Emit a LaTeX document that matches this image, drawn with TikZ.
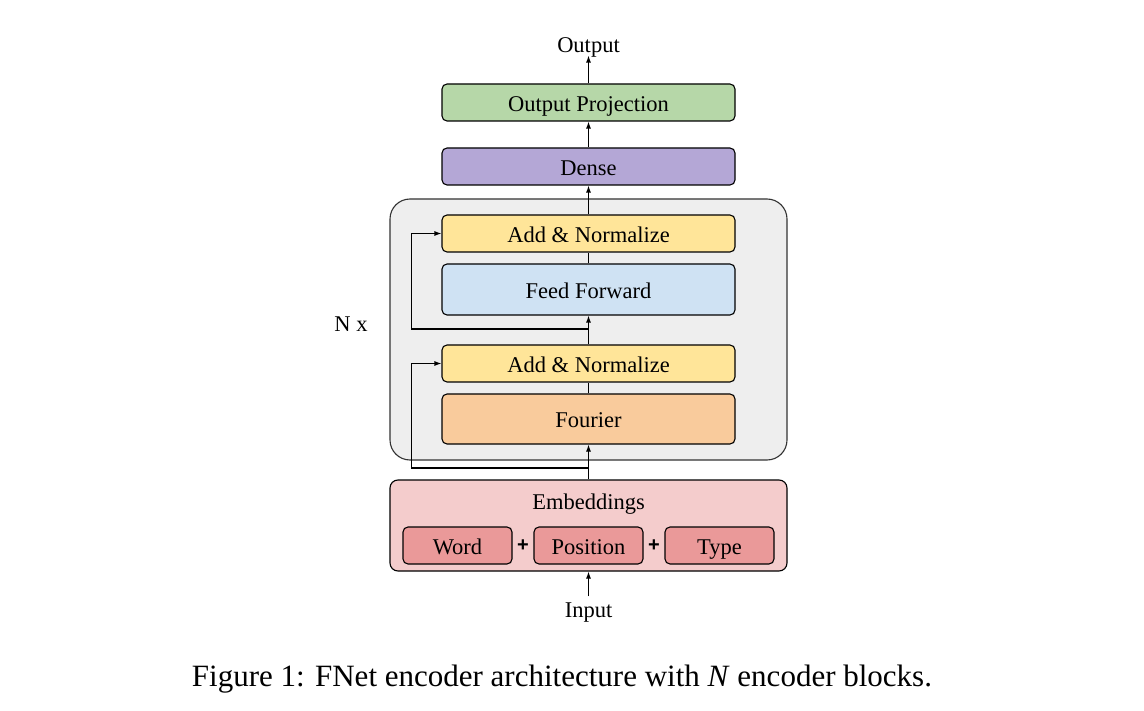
\documentclass[tikz,border=0pt]{standalone}
\usepackage{fontspec}
\setmainfont{Liberation Serif}
\newfontfamily\plusfont{Liberation Sans}
\usetikzlibrary{arrows.meta}
\definecolor{projgreen}{HTML}{B6D7A8}
\definecolor{densepurple}{HTML}{B4A7D6}
\definecolor{addyellow}{HTML}{FFE599}
\definecolor{ffblue}{HTML}{CFE2F3}
\definecolor{fourierorange}{HTML}{F9CB9C}
\definecolor{embpink}{HTML}{F4CCCC}
\definecolor{tokred}{HTML}{EA9999}
\definecolor{blockgray}{HTML}{EEEEEE}
\begin{document}
\begin{tikzpicture}[x=1pt,y=-1pt,line width=1.1pt,>={Latex[length=7pt,width=5pt]},
  lbl/.style={font=\fontsize{22.5}{26}\selectfont, inner sep=2pt, text height=18pt, text depth=0pt},
  layer/.style={draw, rounded corners=5pt, font=\fontsize{22.5}{26}\selectfont, text height=18pt, text depth=0pt, minimum width=293pt, minimum height=37pt, inner sep=0pt},
  token/.style={draw, rounded corners=5pt, fill=tokred, font=\fontsize{22.5}{26}\selectfont, text height=18pt, text depth=0pt, minimum width=109pt, minimum height=37pt, inner sep=0pt}]
\useasboundingbox (0,0) rectangle (1144,711);
% encoder block and embeddings
\node[draw=black!80, fill=blockgray, rounded corners=20pt, minimum width=397pt, minimum height=261pt] at (588.5,329.5) (block){};
\node[draw, fill=embpink, rounded corners=8pt, minimum width=397pt, minimum height=91pt] at (588.5,525.5) (emb){};
\node[lbl] at (588.5,500) (embtext){Embeddings};
\node[token] at (457.5,545.5) (word){Word};
\node[token] at (588.5,545.5) (pos){Position};
\node[token] at (719.5,545.5) (type){Type};
\node[font=\plusfont\bfseries\fontsize{20}{24}\selectfont, inner sep=0pt] at (523,546) (plus1){+};
\node[font=\plusfont\bfseries\fontsize{20}{24}\selectfont, inner sep=0pt] at (654,546) (plus2){+};
% layers
\node[layer, fill=fourierorange, minimum height=50pt] at (588.5,419) (fourier){Fourier};
\node[layer, fill=addyellow] at (588.5,363.5) (addbot){Add \& Normalize};
\node[layer, fill=ffblue, minimum height=51pt] at (588.5,289.5) (ff){Feed Forward};
\node[layer, fill=addyellow] at (588.5,233.5) (addtop){Add \& Normalize};
\node[layer, fill=densepurple] at (588.5,166.5) (dense){Dense};
\node[layer, fill=projgreen] at (588.5,102.5) (proj){Output Projection};
\node[lbl] at (588.5,44) (out){Output};
\node[lbl] at (588.5,608) (in){Input};
\node[lbl] at (351,323) (nx){N x};
\node[font=\fontsize{31}{36}\selectfont, text height=21pt, text depth=7pt] at (562,679) (caption){Figure 1: FNet encoder architecture with \textit{N} encoder blocks.};
% connections
\coordinate (res1) at (588.5,468);
\coordinate (res2) at (588.5,329);
\draw[->] (in) -- (emb);
\draw[->] (emb) -- (fourier);
\draw (fourier) -- (addbot);
\draw[->] (addbot) -- (ff);
\draw (ff) -- (addtop);
\draw[->] (addtop) -- (dense);
\draw[->] (dense) -- (proj);
\draw[->] (proj) -- (out);
\draw[->] (res1) -- ++(-177,0) |- (addbot.west); % residual
\draw[->] (res2) -- ++(-177,0) |- (addtop.west); % residual
\end{tikzpicture}
\end{document}
